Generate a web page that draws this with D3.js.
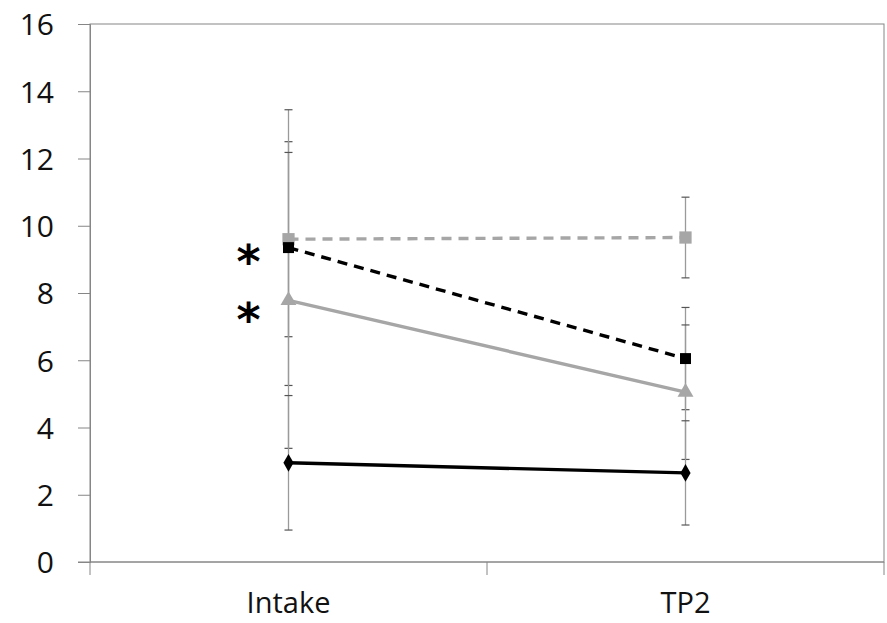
<!DOCTYPE html>
<html><head><meta charset="utf-8">
<script src="https://cdn.jsdelivr.net/npm/d3@7"></script>
<style>body{margin:0;background:#fff}svg{display:block}</style>
</head><body>
<svg id="c" width="887" height="623"></svg>
<script>
const categories = ["Intake", "TP2"];
const yTicks = [0, 2, 4, 6, 8, 10, 12, 14, 16];
const seriesNames = ["greySquare", "blackSquare", "greyTriangle", "blackDiamond"];
const greySquareMean = [9.6, 9.65];
const greySquareErr = [2.9, 1.2];
const blackSquareMean = [9.35, 6.05];
const blackSquareErr = [4.1, 1.52];
const greyTriangleMean = [7.78, 5.05];
const greyTriangleErr = [4.4, 2.0];
const blackDiamondMean = [2.95, 2.65];
const blackDiamondErr = [2.0, 1.55];
const asterisks = [{cat: "Intake", value: 9.2}, {cat: "Intake", value: 7.5}];

const series = [
  {mean: greySquareMean, err: greySquareErr, color: "#a6a6a6", dash: "10,7", shape: d3.symbolSquare, size: 150},
  {mean: blackSquareMean, err: blackSquareErr, color: "#000", dash: "10,7", shape: d3.symbolSquare, size: 120},
  {mean: greyTriangleMean, err: greyTriangleErr, color: "#a6a6a6", dash: null, shape: d3.symbolTriangle, size: 110},
  {mean: blackDiamondMean, err: blackDiamondErr, color: "#000", dash: null, shape: d3.symbolDiamond, size: 90}
];

const svg = d3.select("#c");
const L = 90, R = 884, T = 24, B = 562;
const x = d3.scaleBand().domain(categories).range([L, R]);
const y = d3.scaleLinear().domain([0, 16]).range([B, T]);
const cx = c => x(c) + x.bandwidth() / 2;
const axisColor = "#868686";
const font = "'Open Sans', 'Liberation Sans', sans-serif";

// plot border
svg.append("rect").attr("x", L).attr("y", T).attr("width", R - L).attr("height", B - T)
  .attr("fill", "none").attr("stroke", axisColor).attr("stroke-width", 1);

// y axis
const ya = svg.append("g").attr("transform", `translate(${L},0)`)
  .call(d3.axisLeft(y).tickValues(yTicks).tickSize(12).tickPadding(24));
ya.select(".domain").attr("stroke", axisColor);
ya.selectAll(".tick line").attr("stroke", axisColor);
ya.selectAll(".tick text").attr("font-family", font).attr("font-size", 30).attr("fill", "#111").attr("dy", "0.36em");

// x axis
const xa = svg.append("g").attr("transform", `translate(0,${B})`)
  .call(d3.axisBottom(x).tickSize(0));
xa.select(".domain").remove();
svg.append("line").attr("x1", L - 12).attr("x2", R).attr("y1", B).attr("y2", B).attr("stroke", axisColor);
x.domain().concat([null]).forEach(c => {
  const px = c === null ? R : x(c);
  svg.append("line").attr("x1", px).attr("x2", px).attr("y1", B).attr("y2", B + 13).attr("stroke", axisColor);
});
xa.selectAll(".tick text").attr("font-family", font).attr("font-size", 29).attr("fill", "#111")
  .attr("y", 51).attr("dy", null);

// error bars
series.forEach(s => {
  categories.forEach((c, i) => {
    const px = cx(c), hi = y(s.mean[i] + s.err[i]), lo = y(s.mean[i] - s.err[i]);
    svg.append("line").attr("x1", px).attr("x2", px).attr("y1", hi).attr("y2", lo)
      .attr("stroke", "#9a9a9a").attr("stroke-width", 1.3);
    [hi, lo].forEach(py => svg.append("line").attr("x1", px - 4).attr("x2", px + 4)
      .attr("y1", py).attr("y2", py).attr("stroke", "#555").attr("stroke-width", 1.2));
  });
});

// lines and markers
const line = d3.line().x((d, i) => cx(categories[i])).y(d => y(d));
series.forEach(s => {
  svg.append("path").attr("d", line(s.mean)).attr("fill", "none")
    .attr("stroke", s.color).attr("stroke-width", 3.4)
    .attr("stroke-dasharray", s.dash);
  categories.forEach((c, i) => {
    svg.append("path").attr("d", d3.symbol().type(s.shape).size(s.size)())
      .attr("transform", `translate(${cx(c)},${y(s.mean[i])})`)
      .attr("fill", s.color);
  });
});

// asterisks
const astSize = 46;
asterisks.forEach(a => {
  svg.append("text").attr("x", cx(a.cat) - 40).attr("y", y(a.value) + 0.56 * astSize)
    .attr("text-anchor", "middle").attr("font-family", "'DejaVu Sans', sans-serif")
    .attr("font-size", astSize).attr("font-weight", "bold")
    .attr("fill", "#000").text("*");
});
</script>
</body></html>
